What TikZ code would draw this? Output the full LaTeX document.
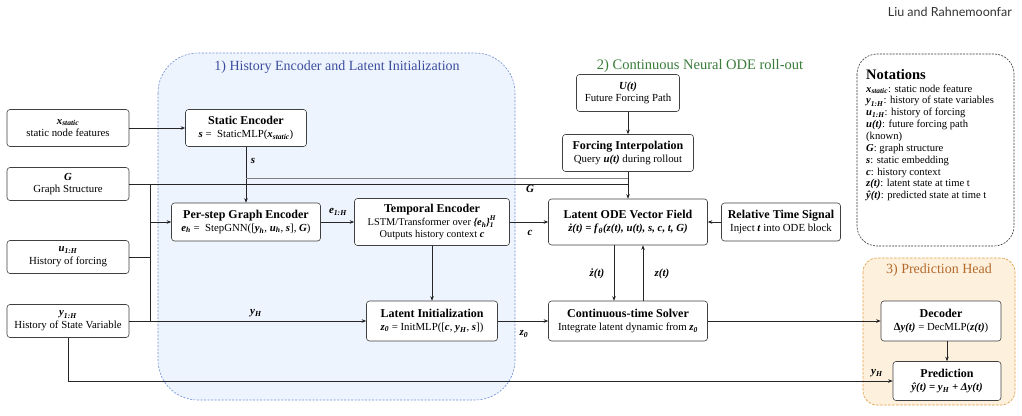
\documentclass[tikz,border=0pt]{standalone}
\usepackage{amsmath}
\usepackage{fontspec}
\setmainfont{Liberation Serif}
\newfontfamily\hdrfont{Lato}
\usetikzlibrary{arrows.meta}
\newcommand\tfnt{\fontsize{12}{13}\selectfont\bfseries}
\newcommand\sfnt{\fontsize{10.8}{12.8}\selectfont}
\newcommand\nfnt{\fontsize{10.6}{11.85}\selectfont}
\newcommand\mb[1]{\textbf{\textit{#1}}}
\definecolor{regblue}{HTML}{EEF4FD}
\definecolor{regbluedraw}{HTML}{6F8FD6}
\definecolor{titblue}{HTML}{3B4E9E}
\definecolor{titgreen}{HTML}{3A7D3A}
\definecolor{regorange}{HTML}{FDF1DE}
\definecolor{regorangedraw}{HTML}{E2A24A}
\definecolor{titorange}{HTML}{B4692A}
\begin{document}
\begin{tikzpicture}[x=1pt,y=-1pt,
  box/.style={draw=black!75, rounded corners=3pt, fill=white, align=center, inner sep=1pt, line width=0.6pt, font=\sfnt},
  arr/.style={-{Stealth[length=4.5pt,width=3.5pt]}, line width=0.6pt, draw=black!85},
  ln/.style={line width=0.6pt, draw=black!85},
  lbl/.style={font=\fontsize{11}{12}\selectfont, inner sep=0pt},
  regtitle/.style={font=\fontsize{14}{16}\selectfont, inner sep=0pt}]
\path[use as bounding box, fill=white] (0,0) rectangle (1022,415);

% header
\node[font=\hdrfont\fontsize{12.5}{14}\selectfont, anchor=east, text=black!80, inner sep=0pt] (hdr) at (1012,12) {Liu and Rahnemoonfar};

% regions
\draw[regbluedraw, fill=regblue, dash pattern=on 2pt off 1.5pt, line width=0.6pt, rounded corners=40pt] (158,53) rectangle (515,400);
\node[regtitle, text=titblue] (t1) at (337,67) {1) History Encoder and Latent Initialization};
\node[regtitle, text=titgreen, font=\fontsize{14.5}{16}\selectfont] (t2) at (700,66) {2) Continuous Neural ODE roll-out};
\draw[regorangedraw, fill=regorange, dash pattern=on 2.5pt off 1.5pt, line width=0.7pt, rounded corners=14pt] (863,258) rectangle (1015,405);
\node[regtitle, text=titorange] (t3) at (939,270) {3) Prediction Head};

% notations
\draw[black!80, dash pattern=on 2pt off 1.2pt, line width=0.6pt, rounded corners=20pt] (857,54) rectangle (1014,246);
\node[anchor=north west, align=left, inner sep=0pt, font=\nfnt] (nt) at (866,69) {%
{\fontsize{14.5}{15}\selectfont\bfseries Notations}\\[1pt]
$\mb{x}_{\mb{static}}$: static node feature\\
$\mb{y}_{\mb{1:H}}$: history of state variables\\
$\mb{u}_{\mb{1:H}}$: history of forcing\\
\mb{u(t)}: future forcing path\\
(known)\\
\mb{G}: graph structure\\
\mb{s}: static embedding\\
\mb{c}: history context\\
\mb{z(t)}: latent state at time t\\
\mb{ŷ(t)}: predicted state at time t};

% input nodes
\node[box, minimum width=122, minimum height=37] (xs) at (68,128) {$\mb{x}_{\mb{static}}$\\ static node features};
\node[box, minimum width=122, minimum height=33] (G) at (68,184) {\mb{G}\\ Graph Structure};
\node[box, minimum width=122, minimum height=33] (u) at (68,257) {$\mb{u}_{\mb{1:H}}$\\ History of forcing};
\node[box, minimum width=122, minimum height=33] (y) at (68,321) {$\mb{y}_{\mb{1:H}}$\\ History of State Variable};

% region 1 nodes
\node[box, minimum width=121, minimum height=37] (se) at (246,128) {{\tfnt Static Encoder}\\ \mb{s} = \ StaticMLP($\mb{x}_{\mb{static}}$)};
\node[box, minimum width=149, minimum height=38] (pg) at (246,222) {{\tfnt Per-step Graph Encoder}\\ $\mb{e}_{\mb{h}}$ = \ StepGNN([$\mb{y}_{\mb{h}}$, $\mb{u}_{\mb{h}}$, \mb{s}], \mb{G})};
\node[box, minimum width=155, minimum height=47, font=\fontsize{10.4}{12.6}\selectfont] (te) at (432,222) {{\tfnt Temporal Encoder}\\[0.5pt] LSTM/Transformer over $\mb{\{e}_{\mb{h}}\mb{\}}_{\mb{1}}^{\mb{H}}$\\ Outputs history context \mb{c}};
\node[box, minimum width=131, minimum height=40] (li) at (432,321) {{\tfnt Latent Initialization}\\ $\mb{z}_{\mb{0}}$ = InitMLP([\mb{c}, $\mb{y}_{\mb{H}}$, \mb{s}])};

% region 2 nodes
\node[box, minimum width=103, minimum height=37] (U) at (628,93) {\mb{U(t)}\\ Future Forcing Path};
\node[box, minimum width=131, minimum height=37] (fi) at (628,153) {{\tfnt Forcing Interpolation}\\ Query \mb{u(t)} during rollout};
\node[box, minimum width=159, minimum height=46] (ode) at (628,222) {{\tfnt Latent ODE Vector Field}\\ $\mb{ż(t) = f}_{\mb{θ}}\mb{(z(t), u(t), s, c, t, G)}$};
\node[box, minimum width=119, minimum height=38] (rt) at (781,222) {{\tfnt Relative Time Signal}\\ Inject \mb{t} into ODE block};
\node[box, minimum width=159, minimum height=40] (sv) at (628,321) {{\tfnt Continuous-time Solver}\\ Integrate latent dynamic from $\mb{z}_{\mb{0}}$};

% region 3 nodes
\node[box, minimum width=120, minimum height=40] (dec) at (941,321) {{\tfnt Decoder}\\ \textbf{Δ}\mb{y(t)} = DecMLP(\mb{z(t)})};
\node[box, minimum width=108, minimum height=39] (pr) at (947,381) {{\tfnt Prediction}\\ $\mb{ŷ(t) = y}_{\mb{H}}\mb{ + Δy(t)}$};

% junction coordinates
\coordinate (vb) at (150,0);
\coordinate (sj) at (246,178);

% connectors
\draw[arr] (xs.east) -- (se.west);
\draw[arr] (se.south) -- (pg.north);
\node[lbl] (ls) at (253,161) {\mb{s}};
\draw[ln, black!50, line width=1pt] (sj) -- (sj -| ode.north);
\draw[ln] (G.east) -- (G.east -| ode.north);
\draw[ln] (G.east -| vb) -- (y.east -| vb);
\draw[ln] (u.east) -- (u.east -| vb);
\draw[arr] (pg.west -| vb) -- (pg.west);
\draw[arr] (y.east) -- (li.west);
\node[lbl] (lyh) at (256,313) {$\mb{y}_{\mb{H}}$};
\draw[arr] (y.south) -- (y.south |- pr.west) -- (pr.west);
\node[lbl] (lyh2) at (877,373) {$\mb{y}_{\mb{H}}$};
\draw[arr] (pg.east) -- (te.west);
\node[lbl] (le) at (338,212) {$\mb{e}_{\mb{1:H}}$};
\draw[arr] (te.east) -- (ode.west);
\node[lbl] (lc) at (530,233) {\mb{c}};
\node[lbl] (lG) at (530,189) {\mb{G}};
\draw[arr] (te.south) -- (li.north);
\draw[arr] (li.east) -- (sv.west);
\node[lbl] (lz0) at (524,334) {$\mb{z}_{\mb{0}}$};
\draw[arr] ([xshift=-14pt]ode.south) -- ([xshift=-14pt]sv.north);
\node[lbl] (ldz) at (597,274) {\mb{ż(t)}};
\draw[arr] ([xshift=15pt]sv.north) -- ([xshift=15pt]ode.south);
\node[lbl] (lz) at (662,274) {\mb{z(t)}};
\draw[arr] (U.south) -- (fi.north);
\draw[arr] (fi.south) -- (ode.north);
\draw[arr] (rt.west) -- (ode.east);
\draw[arr] (sv.east) -- (dec.west);
\draw[arr] (dec.south -| pr.north) -- (pr.north);
\end{tikzpicture}
\end{document}
